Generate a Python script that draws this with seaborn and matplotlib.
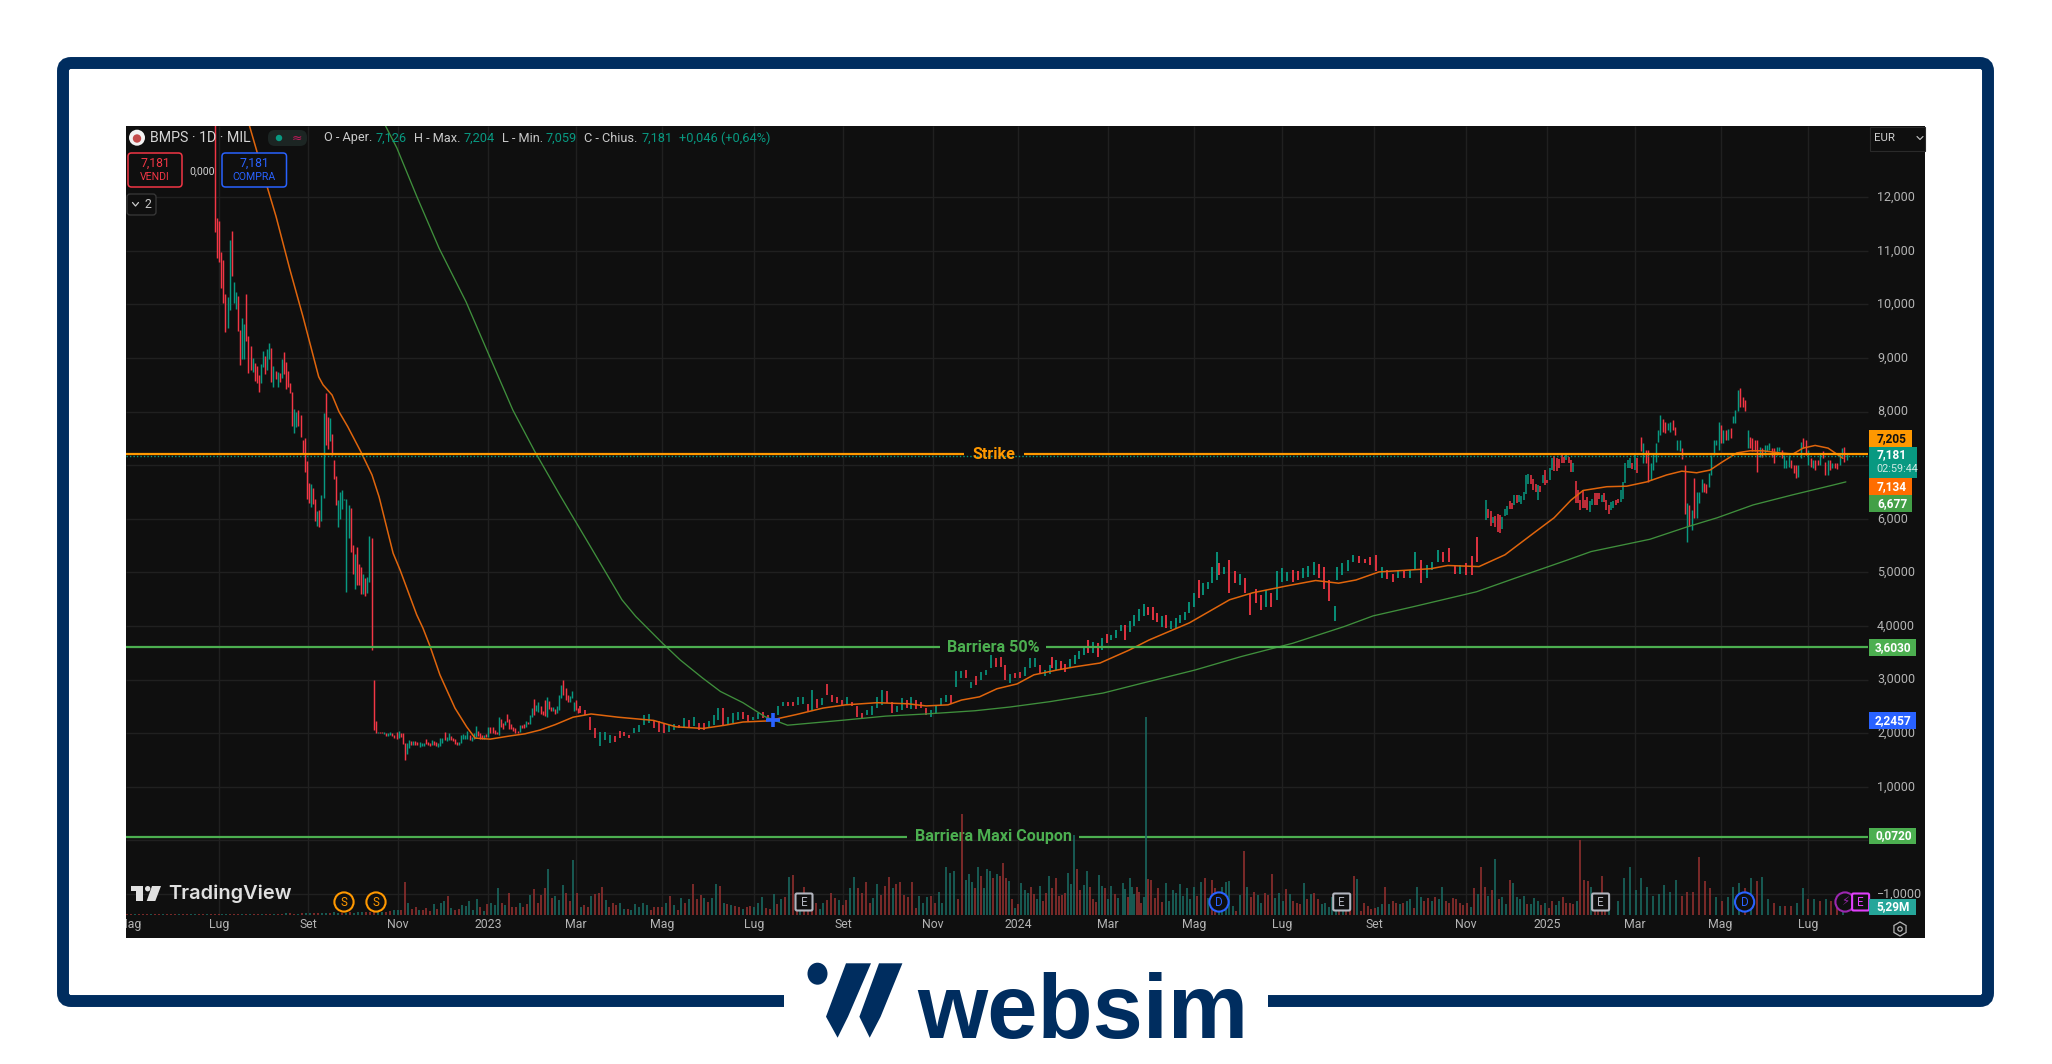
import numpy as np
import matplotlib
matplotlib.use("Agg")
import matplotlib.pyplot as plt
from matplotlib.patches import FancyBboxPatch, Rectangle, Polygon, Circle, Ellipse, RegularPolygon
import seaborn as sns

# ---------- DATA (prices in EUR; each bar = high, low, up-day flag) ----------
bars_decline = [
(13.9,11.36,0),(11.61,10.87,0),(11.56,10.80,0),(10.98,10.30,0),(10.83,10.02,0),(10.20,9.49,0),(10.14,9.57,1),(11.20,9.89,1),
(11.37,10.53,0),(10.42,10.02,1),(10.23,9.92,1),(10.16,9.51,0),(9.52,8.87,0),(9.75,8.99,1),(9.64,8.99,1),(10.20,9.32,0),
(9.41,8.73,0),(9.23,8.77,0),(9.00,8.74,1),(8.91,8.57,0),(8.85,8.53,0),(8.68,8.37,0),(8.89,8.54,1),(9.13,8.83,1),
(9.04,8.70,0),(9.17,8.78,1),(9.28,8.98,1),(9.19,8.55,0),(8.85,8.46,1),(8.76,8.61,0),(8.74,8.46,1),(8.72,8.55,0),
(8.98,8.63,1),(9.11,8.70,0),(8.93,8.42,0),(8.76,8.46,0),(8.53,8.35,0),(8.37,7.73,0),(8.05,7.60,1),(7.99,7.71,1),
(8.03,7.73,0),(7.94,7.53,0),(7.47,7.23,0),(7.51,6.87,0),(7.08,6.37,0),(6.67,6.30,0),(6.65,6.22,1),(6.58,6.28,0),
(6.37,5.96,0),(6.15,5.87,1),(6.17,5.85,0),(6.45,5.96,1),(7.98,6.39,1),(8.34,7.38,0),(7.90,7.30,0),(7.88,7.45,1),
(7.58,7.19,0),(7.10,6.74,0),(6.80,6.26,0),(6.35,5.85,1),(6.50,6.00,1),(6.54,6.18,1),(6.37,6.35,1),(6.37,4.64,1),
(6.26,5.64,1),(6.20,5.39,0),(5.51,4.97,0),(5.35,4.69,1),(5.48,4.77,0),(5.16,4.77,0),(5.10,4.60,0),(4.97,4.60,1),
(4.90,4.56,0),(4.92,4.62,1),(5.68,4.82,1),(5.64,3.55,0),(2.99,2.06,0),(2.23,2.00,0),(2.02,2.00,1),(2.02,2.00,0),
(2.02,2.00,0),(2.02,1.99,1),(2.01,1.95,0),(2.00,1.95,1),(2.03,1.97,1),(2.00,1.95,0),(1.97,1.92,0),(2.02,1.89,0),
(2.05,1.92,1),(2.00,1.93,0),(2.00,1.80,0),(1.81,1.50,0),(1.81,1.61,1),(1.87,1.72,1),(1.86,1.79,0),(1.86,1.79,1),
(1.85,1.78,0),(1.83,1.79,0),(1.83,1.74,1),(1.81,1.76,1),(1.82,1.76,1),(1.89,1.80,0),(1.83,1.78,0),(1.82,1.76,0),
(1.87,1.78,1),(1.85,1.78,0),(1.84,1.76,0),(1.82,1.74,1),(1.92,1.76,1),(1.91,1.82,1),(2.02,1.87,0),(1.93,1.86,1),
(2.00,1.87,1),(1.95,1.87,0),(1.91,1.85,0),(1.89,1.80,0),(1.84,1.78,0),(1.84,1.78,1),(1.97,1.82,1),(1.99,1.89,1),
(1.97,1.89,1),(2.04,1.89,1),(1.97,1.87,0),(1.93,1.86,1),(2.00,1.89,1),(2.14,1.93,1),(2.04,1.95,0),(2.00,1.89,0),
(1.97,1.89,0),(1.97,1.89,1),(1.99,1.93,0),(2.12,1.93,1),(2.12,2.01,0),(2.12,2.01,0),(2.07,1.99,0),(2.02,1.99,0),
(2.30,1.97,1),(2.27,2.12,0),(2.20,2.08,0),(2.23,2.15,1),(2.36,2.21,0),(2.27,2.08,0),(2.17,2.08,0),(2.12,2.04,0),
(2.10,2.00,0),(2.04,2.00,0),(2.15,2.02,1),(2.15,2.10,0),(2.17,2.10,0),(2.23,2.12,1),(2.21,2.17,0),(2.34,2.17,1),
(2.47,2.30,1),(2.64,2.34,0),(2.53,2.42,1),(2.58,2.40,1),(2.51,2.36,0),(2.42,2.34,0),(2.62,2.32,0),(2.68,2.30,1),
(2.60,2.45,0),(2.49,2.42,0),(2.49,2.42,1),(2.45,2.36,0),(2.51,2.38,1),(2.71,2.43,1),(2.90,2.66,1),(2.99,2.71,0),
(2.84,2.62,0),(2.71,2.58,0),(2.69,2.58,1),(2.79,2.66,1),(2.58,2.42,1),(2.62,2.43,0),(2.47,2.38,0)]

bars_2023 = [
(2.50,2.37,0),(2.43,2.34,0),(2.31,2.07,0),(2.09,1.91,0),(2.03,1.77,1),(2.03,1.87,1),(1.97,1.81,1),(1.95,1.84,0),(2.05,1.91,0),
(2.03,1.94,0),(1.97,1.91,0),(2.09,2.00,1),(2.15,2.03,1),(2.34,2.15,1),(2.36,2.19,1),(2.25,2.09,0),(2.22,2.03,0),(2.19,2.00,0),
(2.15,2.03,1),(2.17,2.06,1),(2.15,2.09,0),(2.28,2.09,1),(2.25,2.12,0),(2.31,2.14,1),(2.19,2.06,0),(2.19,2.06,0),(2.22,2.09,1),
(2.34,2.15,1),(2.47,2.25,1),(2.48,2.15,0),(2.31,2.15,1),(2.37,2.20,1),(2.39,2.25,1),(2.39,2.26,0),(2.34,2.22,0),(2.31,2.24,1),
(2.37,2.26,1),(2.40,2.28,0),(2.34,2.25,0),(2.37,2.26,1),(2.51,2.34,1),(2.59,2.50,1),(2.59,2.50,0),(2.59,2.50,0),(2.67,2.53,1),
(2.67,2.55,1),(2.55,2.42,0),(2.80,2.43,1),(2.63,2.47,0),(2.65,2.53,1),(2.92,2.71,0),(2.71,2.59,0),(2.68,2.56,0),(2.62,2.53,0),
(2.68,2.53,1),(2.59,2.51,0),(2.50,2.31,0),(2.37,2.26,0),(2.43,2.34,1),(2.50,2.34,1),(2.68,2.47,1),(2.81,2.53,1),(2.78,2.56,0),
(2.59,2.37,0),(2.50,2.39,1),(2.65,2.43,1),(2.62,2.47,0),(2.68,2.45,1),(2.62,2.45,0),(2.59,2.47,0),(2.47,2.34,0),(2.43,2.30,1),
(2.50,2.37,1),(2.65,2.53,1),(2.71,2.59,1),(2.71,2.55,0),(3.17,2.87,1),(3.17,3.04,1),(3.18,3.04,0),(2.96,2.84,1),(3.06,2.90,0),
(3.15,3.00,1),(3.18,3.09,1),(3.46,3.21,1),(3.40,3.24,0),(3.43,3.24,0),(3.27,2.99,0),(3.11,2.94,1),(3.13,3.03,0),(3.15,3.03,0),
(3.24,3.06,1),(3.40,3.21,1),(3.40,3.24,1),(3.27,3.12,0),(3.18,3.07,1),(3.27,3.11,1)]

bars_2024_rise = [
(3.42,3.21,0),(3.37,3.18,1),(3.34,3.20,0),(3.30,3.15,0),(3.38,3.22,1),(3.46,3.30,1),(3.54,3.38,1),(3.62,3.46,1),(3.74,3.49,0),(3.70,3.50,1),
(3.68,3.43,0),(3.78,3.55,1),(3.85,3.68,0),(3.83,3.74,1),(3.92,3.78,1),(4.02,3.90,1),(4.02,3.74,0),(4.10,3.88,1),(4.21,4.00,1),(4.32,4.10,1),
(4.41,4.18,1),(4.35,4.21,0),(4.35,4.11,0),(4.24,4.08,0),(4.19,3.99,1),(4.21,3.96,0),(4.10,3.95,1),(4.15,3.96,1),(4.20,4.05,1),(4.27,4.11,1),
(4.44,4.24,1),(4.61,4.36,1),(4.86,4.52,0),(4.80,4.58,1),(4.83,4.70,1),(5.10,4.80,1),(5.38,4.86,1)]
bars_2024_summer = [
(5.17,4.95,0),(5.11,4.98,1),(5.23,4.61,0),(5.02,4.80,0),(4.98,4.77,1),(4.89,4.61,0),(4.61,4.20,0),(4.70,4.43,0),(4.58,4.30,0),(4.67,4.36,1),
(4.61,4.35,0),(5.02,4.49,1),(5.08,4.83,1),(5.00,4.84,1),(5.05,4.83,0),(5.02,4.86,0),(5.08,4.89,1),(5.12,4.92,1),(5.19,4.95,1),(5.15,4.90,0),
(5.11,4.70,0),(4.86,4.46,0),(4.38,4.10,1)]
bars_2024_autumn = [
(5.11,4.86,1),(5.17,4.95,1),(5.23,5.02,1),(5.33,5.20,1),(5.30,5.18,0),(5.26,5.17,0),(5.28,5.14,0),(5.33,5.02,0),(5.11,4.89,1),(5.04,4.88,0),
(4.98,4.83,0),(5.02,4.89,1),(5.03,4.90,0),(5.05,4.89,1),(5.39,5.05,1),(5.23,4.80,0),(5.14,4.90,1),(5.20,5.05,1),(5.42,5.20,1),(5.39,5.20,0),
(5.45,5.20,0),(5.14,4.98,0),(5.14,4.98,1),(5.17,4.95,0),(5.30,4.95,0),(5.66,5.20,0)]

bars_early_2025 = [
(6.35,5.98,1),(6.18,6.01,0),(6.15,5.87,0),(6.03,5.92,1),(6.05,5.84,0),(6.09,5.76,0),(6.07,5.74,0),(6.03,5.81,1),(6.18,6.05,1),(6.24,6.07,1),
(6.34,6.18,0),(6.30,6.18,0),(6.45,6.26,1),(6.45,6.29,0),(6.45,6.32,1),(6.43,6.28,1),(6.51,6.35,1),(6.81,6.46,1),(6.84,6.65,1),(6.82,6.65,0),
(6.74,6.54,0),(6.65,6.51,0),(6.63,6.35,1),(6.61,6.51,0),(6.82,6.66,1),(6.91,6.63,0),(6.73,6.66,0),(6.94,6.73,1),(7.13,6.91,1),(7.17,6.90,0),
(7.13,6.90,0),(7.11,6.94,0),(7.19,7.05,0),(7.16,7.05,0),(7.21,7.10,1),(7.16,7.04,0),(7.09,6.88,0),(7.04,6.88,1),(6.71,6.29,0),(6.54,6.29,0),
(6.35,6.17,0),(6.54,6.20,0),(6.35,6.20,0),(6.41,6.17,0),(6.33,6.12,1),(6.37,6.26,1),(6.49,6.26,0),(6.48,6.26,0),(6.48,6.37,0),(6.45,6.32,1),
(6.48,6.32,0),(6.35,6.17,0),(6.26,6.09,0),(6.32,6.17,1),(6.33,6.20,1),(6.35,6.26,0),(6.38,6.29,0),(6.54,6.32,1),(6.68,6.38,1),(7.04,6.66,1),
(7.10,6.94,1),(7.13,6.94,1),(7.04,6.93,0),(7.21,6.91,1),(7.13,6.85,0)]

bars_late_2025 = [
(7.53,7.26,0),(7.41,7.04,1),(7.29,7.04,0),(7.29,6.69,0),(7.04,6.73,1),(7.22,6.91,1),(7.41,7.07,1),(7.66,7.44,1),(7.94,7.57,1),(7.86,7.63,0),
(7.81,7.60,0),(7.78,7.66,1),(7.81,7.63,1),(7.85,7.66,0),(7.72,7.57,0),(7.48,7.29,1),(7.47,7.26,1),(7.32,7.11,0),(7.01,6.10,0),(6.29,5.57,1),
(6.26,5.86,0),(6.17,5.79,1),(6.76,6.01,0),(6.51,6.01,1),(6.51,6.29,1),(6.74,6.51,1),(6.66,6.51,0),(6.65,6.48,0),(6.85,6.60,1),(7.19,6.82,1),
(7.47,7.19,1),(7.47,7.38,1),(7.81,7.29,1),(7.75,7.41,0),(7.66,7.41,1),(7.66,7.47,0),(7.67,7.47,1),(7.69,7.50,0),(7.92,7.78,1),(8.03,7.78,1),
(8.41,8.02,1),(8.44,8.09,0),(8.28,8.09,0),(8.22,8.02,0),(7.66,7.32,1),(7.53,7.32,0),(7.50,7.26,0),(7.47,7.26,0),(7.47,6.88,0),(7.35,7.16,1),
(7.32,7.15,0),(7.38,7.19,1),(7.38,7.26,1),(7.41,7.29,1),(7.32,7.16,0),(7.32,7.04,0),(7.35,7.19,1),(7.35,7.26,1),(7.29,7.13,0),(7.19,6.94,1),
(7.10,6.94,1),(7.19,6.97,1),(7.10,6.94,0),(7.01,6.85,0),(7.01,6.76,0),(7.01,6.79,1),(7.44,7.13,1),(7.50,7.32,0),(7.47,7.19,0),(7.29,7.01,1),
(7.13,6.97,0),(7.10,6.94,1),(7.10,6.91,0),(7.10,7.01,0),(7.22,7.01,1),(7.26,7.13,0),(7.07,6.82,0),(7.10,6.82,1),(7.10,6.91,0),(7.04,6.94,1),
(7.04,6.94,0),(7.04,6.93,0),(7.22,7.01,1),(7.32,7.16,1),(7.35,7.07,0),(7.21,7.10,1)]

# first/last trading session covered by each list
bar_spans = [(42.6,216.3),(217.2,442.1),(442.9,522.0),(522.9,578.3),(579.2,646.5),(650.7,723.0),(724.9,823.4)]

ma50_session = [59.1,67.5,71.8,78.5,84.7,92.2,94.3,98.6,101.9,106.1,112.4,117.7,121.1,127.8,131.1,139.1,142.1,145.5,150.2,151.7,157.4,163.0,167.0,
174.2,183.7,190.9,198.1,205.3,213.9,222.5,235.4,252.4,263.2,276.1,286.6,295.2,306.9,320.8,333.5,344.3,359.3,374.2,382.8,393.3,399.8,408.4,416.7,
426.3,434.4,445.5,454.1,466.0,479.9,489.5,508.8,528.0,539.0,555.5,569.2,580.2,588.5,599.5,624.2,632.4,647.4,659.8,673.7,683.3,691.4,697.2,708.5,
718.0,727.6,737.2,744.4,751.5,757.9,764.1,770.7,777.0,783.3,791.4,797.6,802.4,808.2,814.4,821.5]
ma50_value = [13.33,12.20,11.64,10.64,9.77,8.65,8.50,8.31,8.00,7.72,7.25,6.82,6.41,5.36,5.05,4.21,3.96,3.62,3.09,2.96,2.47,2.12,1.91,
1.89,1.95,1.99,2.06,2.16,2.30,2.36,2.30,2.24,2.12,2.09,2.15,2.21,2.23,2.35,2.47,2.53,2.57,2.55,2.51,2.53,2.62,2.68,2.83,
2.92,3.09,3.18,3.24,3.31,3.55,3.74,4.06,4.49,4.62,4.75,4.85,4.80,4.86,5.01,5.07,5.13,5.11,5.33,5.74,6.02,6.35,6.53,6.60,
6.61,6.69,6.82,6.89,6.86,6.91,7.07,7.23,7.27,7.27,7.23,7.21,7.32,7.37,7.32,7.13]

ma200_session = [124.2,129.6,139.2,149.8,162.7,173.2,185.1,195.7,207.5,220.3,237.3,243.9,256.7,265.1,275.9,284.4,295.2,305.7,316.5,342.1,363.5,382.8,
406.2,423.0,442.1,467.5,486.8,511.5,533.5,558.3,582.8,596.7,615.8,646.2,665.1,689.5,701.0,729.2,746.9,761.3,778.5,797.6,816.7,822.9]
ma200_value = [13.33,12.92,12.01,11.05,10.05,9.10,8.03,7.25,6.45,5.61,4.49,4.18,3.68,3.37,3.03,2.78,2.57,2.31,2.15,2.24,2.32,2.36,
2.42,2.49,2.59,2.75,2.94,3.18,3.43,3.68,3.99,4.19,4.36,4.64,4.90,5.23,5.39,5.62,5.85,6.02,6.26,6.45,6.63,6.69]

strike_level = 7.205
barrier50_level = 3.603
maxi_level = 0.072
last_price = 7.181

# volumes in millions: (volume, up-day flag)
vol_2022_flat = [(0.4,0),(0.4,0),(0.4,1),(0.4,0),(0.4,0),(0.4,0),(0.4,1),(0.4,0),(0.4,0),(0.4,1),(0.4,0),(0.4,0),(0.4,0),(0.4,1),(0.4,0),(0.4,0),(0.4,1),(0.4,1),
(0.4,0),(0.4,0),(0.4,1),(0.4,0),(0.4,0),(0.4,0),(0.4,1),(0.4,1),(0.4,0),(0.4,0),(0.4,0),(0.4,1),(0.4,0),(0.4,1),(0.4,0),(0.4,0),(0.4,1),(0.4,0),
(0.4,0),(0.4,1),(0.6,0),(0.5,0),(0.8,1),(0.9,0),(0.7,0),(0.6,1),(1.0,0),(0.9,1),(1.1,1),(1.0,0),(1.2,0),(1.1,1),(0.9,1),(1.2,0),(1.3,1),(1.0,1),
(1.2,0),(1.1,1),(1.4,0),(1.2,1),(1.5,1),(1.3,1),(1.4,0),(1.5,0),(1.3,0),(1.9,1),(1.6,1),(1.5,0),(1.8,0),(2.4,1)]
vol_late_2022 = [(2.7,1),(2.3,0),(16.3,0),(5.8,1),(3.0,0),(4.1,0),(2.7,1),(2.3,0),(3.5,0),(1.8,0),(5.3,1),(3.0,0),(5.8,1),(6.9,1),(9.4,0),(3.7,1),
(2.7,0),(3.0,0),(4.8,1),(4.4,1),(6.9,1),(2.7,1),(8.0,1),(4.1,0),(1.9,1),(5.3,0),(6.2,1),(4.8,1),(13.3,1),(6.2,0),(4.8,1),(11.2,0),(4.1,0),(4.1,0),(5.8,1),
(4.1,0),(5.3,0),(10.1,1),(12.9,0),(6.2,0),(10.1,0),(13.3,0),(22.8,1),(8.7,0),(9.4,1),(7.6,1),(15.0,1),(11.2,0),(7.1,0),(27.4,1),(11.2,0),(4.1,1),(4.8,0),
(4.1,0),(9.4,1),(10.6,0),(11.2,0),(14.2,0),(7.4,1),(4.1,0),(6.2,0),(4.8,0),(6.2,1),(3.0,1)]
vol_2023_first = [(3.2,0),(2.3,1),(5.3,1),(4.1,1),(6.2,1),(4.8,1),(2.7,0),(4.1,0),(4.1,0),(3.9,0),(5.8,1),(9.4,0),(4.8,1),(2.3,0),(8.5,1),(6.2,0),(8.0,1),(15.4,0),
(8.0,0),(10.1,0),(8.5,1),(6.7,0),(8.3,1),(15.4,1),(14.7,0),(5.8,1),(5.3,0),(4.8,1),(4.4,0),(4.1,0),(3.0,1),(4.1,0),(4.4,0),(4.1,1),(5.8,1),(8.9,1),(3.5,0),
(3.0,0),(10.6,1),(5.3,0),(8.0,1),(8.9,0),(18.9,1),(20.2,0),(6.2,0),(11.2,1),(14.2,0),(8.3,0),(4.1,0),(6.2,0),(3.0,1),(6.2,1),(7.6,0),(11.2,0),(8.3,0),(7.6,1),
(4.8,0),(7.6,0),(13.3,1),(18.9,1),(13.3,0),(11.2,0),(16.5,0),(5.8,0),(8.3,1),(15.4,1),(10.1,0),(14.7,0),(18.9,0),(13.3,1),(15.4,0),(16.5,0),(10.1,0),(8.9,0),
(16.5,0),(3.5,0),(9.4,1),(6.2,1),(8.9,1),(9.7,0),(5.8,0),(11.5,1),(6.2,1),(24.2,1),(21.2,1),(21.8,1),(8.0,0)]
vol_2023_last = [(50.4,0),(17.7,1),(20.7,1),(16.5,1),(13.6,0),
(23.9,1),(19.5,0),(13.3,1),(22.8,1),(22.1,1),(18.6,0),(20.4,1),(19.5,0),(26.0,0),(18.6,0),(16.8,1),(8.0,0),(3.5,1),(5.3,0),(15.9,1),(12.4,1),(11.2,1),(14.2,0),
(10.6,0),(8.0,1),(14.7,1),(7.1,0),(11.2,0),(19.5,1),(13.6,0),(18.6,0),(9.7,0),(10.1,0),(11.2,0),(21.2,1),(15.4,1),(39.8,1),(23.0,0),(12.4,0),(15.0,1),(22.1,1),
(14.2,0),(8.0,0),(6.5,0),(20.0,1),(14.7,1),(13.6,0),(8.0,1),(14.7,1),(10.6,0),(8.3,1)]
vol_2024_head = [(15.9,1),(12.9,1),(9.0,0),(18.6,1),(14.2,1),(10.6,1),(14.2,0),(11.5,0),(6.2,0),(8.9,1),(99.0,1)]
vol_2024 = [(18.1,0),(17.5,0),(8.3,0),(13.6,0),(6.5,0),(15.9,1),
(7.1,1),(12.4,1),(11.2,1),(15.4,1),(9.7,1),(13.3,1),(8.0,1),(14.2,1),(9.7,0),(16.5,1),(18.6,0),(8.3,1),(17.5,0),(13.3,0),(10.1,1),(13.8,1),(16.5,1),(17.2,1),
(4.4,1),(1.8,0),(10.1,1),(31.9,0),(13.8,1),(8.9,0),(11.5,0),(10.1,1),(5.8,1),(11.2,0),(10.1,0),(20.4,0),(8.7,1),(11.2,1),(7.1,1),(12.9,0),(10.6,1),(7.1,0),(5.8,0),
(5.3,0),(15.9,1),(8.0,0),(10.6,1),(11.2,0),(8.0,0),(5.3,1),(5.8,1),(4.1,1),(8.9,1),(10.6,1),(10.6,0),(6.2,1),(5.8,0),(11.2,0),(19.5,0),(18.1,1),(1.8,0),(6.2,0),
(4.4,0),(3.0,0),(3.5,0),(4.1,1),(5.3,1),(13.8,0),(5.3,1),(7.1,0),(5.8,0),(5.3,1),(5.8,0),(7.1,1),(8.0,1),(3.5,0),(13.8,1),(8.9,1),(7.1,0),(8.3,0),(7.1,1),(8.9,0),
(8.0,1),(14.2,1),(7.1,0),(6.2,0),(8.3,0),(8.0,0),(5.8,0),(4.8,0),(5.8,0),(4.1,1),(13.3,0),(10.6,1),(24.2,0),(13.8,0),(9.4,1),(12.4,0),(28.1,1),(8.0,0),(8.9,1),
(5.3,1),(17.5,0),(15.9,1),(8.9,1),(8.0,1),(9.4,1),(5.3,0),(5.3,1),(8.3,1),(7.1,1),(4.8,0),(6.2,1),(3.5,0),(7.1,0),(4.8,1),(7.1,1),(8.9,0),(5.8,0),(5.8,0),(5.3,0),
(7.1,1),(37.7,0),(17.5,0),(16.8,0),(13.8,1),(9.7,0),(3.5,0),(19.5,0),(3.5,0),(3.5,1)]
vol_2025 = [(7.1,1),(18.6,1),(23.9,1),(12.4,1),(18.6,1),(14.2,1),(9.7,1),(10.6,1),(15.0,1),(11.5,1),(17.7,1),(9.7,0),(11.5,0),(11.5,0),(29.0,0),(16.8,0),(13.3,0),
(8.9,1),(7.1,0),(8.9,1),(14.2,1),(15.9,1),(13.3,0),(18.6,1),(16.8,0),(19.1,1),(8.0,1),(6.2,0),(4.4,1),(4.4,0),(4.4,0),(6.2,1),(13.6,1),(8.0,0),(8.0,1),(7.1,0),(8.0,1),
(7.1,0),(3.5,0),(5.3,1)]
vol_spans = [(0.5,128.0),(130.0,238.1),(240.0,398.0),(400.2,474.5),(477.0,488.0),(488.9,709.5),(714.0,821.5)]

month_sessions = [1.4,44.4,87.1,130.1,173.2,215.3,256.5,300.5,343.1,386.1,426.8,469.9,511.0,553.1,597.1,641.1,679.9,722.0,763.0,804.8]
month_labels = ["Mag","Lug","Set","Nov","2023","Mar","Mag","Lug","Set","Nov","2024","Mar","Mag","Lug","Set","Nov","2025","Mar","Mag","Lug"]
price_ticks = [12,11,10,9,8,6,5,4,3,2,1,-1]
price_tick_labels = ["12,000","11,000","10,000","9,000","8,000","6,000","5,0000","4,0000","3,0000","2,0000","1,0000","−1,0000"]
grid_levels = [12,11,10,9,8,7,6,5,4,3,2,1,0,-1]

# ---------- STYLE ----------
BG, GRID = "#0f0f0f", "#202020"
UP, DOWN = "#089981", "#f23645"
VUP, VDOWN = "#1a6b62", "#93302f"
ORANGE, GREEN = "#ff9800", "#4caf50"
MA_O, MA_G = "#e0650c", "#3f8f3c"
NAVY, BLUE = "#002d5f", "#2962ff"

sns.set_theme(style="dark", rc={"axes.facecolor": BG, "figure.facecolor": "white"})
plt.rcParams["font.family"] = ["Roboto", "DejaVu Sans"]

W, H, DPI = 2052, 1064, 100
fig = plt.figure(figsize=(W / DPI, H / DPI), dpi=DPI)
L, R, T, B = 126, 1925, 126, 938
PX_PER_SESSION = 2.09
ax = fig.add_axes([L / W, (H - B) / H, (R - L) / W, (B - T) / H])
ax.set_xlim(0, (R - L) / PX_PER_SESSION)
ax.set_ylim(-1.82, 13.33)
for sp in ax.spines.values():
    sp.set_visible(False)
ax.grid(False)

# grid
plot_right = (1868 - L) / PX_PER_SESSION
ax.hlines(grid_levels, 0, plot_right, color=GRID, lw=1.0, zorder=1)
ax.vlines(month_sessions[1:], -1.39, 13.33, color=GRID, lw=1.0, zorder=1)

# candles
sections = [bars_decline, bars_2023, bars_2024_rise, bars_2024_summer, bars_2024_autumn, bars_early_2025, bars_late_2025]
section_lw = [1.05, 1.2, 1.3, 1.3, 1.3, 1.1, 1.05]
for sec, (s0, s1), lw in zip(sections, bar_spans, section_lw):
    sess = np.linspace(s0, s1, len(sec))
    arr = np.array(sec)
    cols = [UP if u else DOWN for u in arr[:, 2]]
    ax.vlines(sess, arr[:, 1], arr[:, 0], colors=cols, lw=lw, zorder=3)

# moving averages
sns.lineplot(x=ma50_session, y=ma50_value, ax=ax, color=MA_O, lw=1.1, estimator=None, sort=False, legend=False, zorder=4)
sns.lineplot(x=ma200_session, y=ma200_value, ax=ax, color=MA_G, lw=0.95, estimator=None, sort=False, legend=False, zorder=4)
ax.set_xlabel("")
ax.set_ylabel("")

# level lines with labelled gaps (gap edges in sessions)
ax.hlines(last_price, 0, plot_right, color=UP, lw=1.0, linestyles=(0, (1, 1.5)), zorder=4)
for level, col, gap, lab in [
    (strike_level, ORANGE, (401.0, 429.5), "Strike"),
    (barrier50_level, GREEN, (389.5, 440.0), "Barriera 50%"),
    (maxi_level, GREEN, (373.7, 456.0), "Barriera Maxi Coupon"),
]:
    ax.hlines(level, 0, gap[0], color=col, lw=1.6, zorder=5)
    ax.hlines(level, gap[1], plot_right, color=col, lw=1.6, zorder=5)
    ax.text((gap[0] + gap[1]) / 2, level, lab, color=col, fontsize=11.6, fontweight="bold",
            ha="center", va="center", zorder=6)

# volume pane (same session axis); twinx resets the price axis ticks, so it comes first
vx = ax.twinx()
vx.set_ylim(-11.5, 394.5)
vx.patch.set_visible(False)
vx.set_yticks([])
vx.grid(False)
for sp in vx.spines.values():
    sp.set_visible(False)
volume_sections = [vol_2022_flat, vol_late_2022, vol_2023_first, vol_2023_last, vol_2024_head, vol_2024, vol_2025]
for sec, (s0, s1) in zip(volume_sections, vol_spans):
    sess = np.linspace(s0, s1, len(sec))
    arr = np.array(sec)
    cols = [VUP if u else VDOWN for u in arr[:, 1]]
    vx.vlines(sess, 0, arr[:, 0], colors=cols, lw=1.15, zorder=2)

# axes ticks drawn inside the panel, as in the platform
ax.set_xticks(month_sessions)
ax.set_xticklabels(month_labels, fontsize=8.8, color="#b4b4b4")
ax.tick_params(axis="x", length=0, pad=-14.5, bottom=False)
for t in ax.get_xticklabels():
    t.set_clip_on(True)
    t.set_clip_box(ax.bbox)
ax.yaxis.tick_right()
ax.set_yticks(price_ticks)
ax.set_yticklabels(price_tick_labels, fontsize=9, color="#b4b4b4", ha="left", va="center")
ax.tick_params(axis="y", length=0, pad=-34.5, right=False, labelright=True, labelleft=False)

# ---------- OVERLAY in figure pixels: frame, badges, logos ----------
ov = fig.add_axes([0, 0, 1, 1])
ov.set_xlim(0, W)
ov.set_ylim(H, 0)
ov.axis("off")
ov.patch.set_visible(False)

ov.add_patch(FancyBboxPatch((63, 63), 1925, 938, boxstyle="round,pad=0,rounding_size=8",
                            fc="none", ec=NAVY, lw=8.6, zorder=1))
ov.add_patch(Rectangle((784, 985), 484, 30, fc="white", ec="none", zorder=2))
# websim logo
ov.add_patch(Ellipse((817.5, 973.7), 20, 22, fc=NAVY, ec="none", zorder=3))
ov.add_patch(Polygon([(846, 963.3), (871, 963.3), (848, 1016.7), (837.6, 1037.7), (826, 1016.7)], fc=NAVY, ec="none", zorder=3))
ov.add_patch(Polygon([(879, 963.3), (902.4, 963.3), (880.6, 1016.7), (869.7, 1037.7), (859.4, 1016.7)], fc=NAVY, ec="none", zorder=3))
ov.text(1083, 1038, "websim", color=NAVY, fontsize=65, fontweight="bold", ha="center", va="baseline",
        family=["Liberation Sans"], zorder=3)


def badge(x0, x1, y0, y1, fc, txt, col="white", fs=8.6, tx=None):
    ov.add_patch(Rectangle((x0, y0), x1 - x0, y1 - y0, fc=fc, ec="none", zorder=8))
    ov.text(tx if tx else x0 + 7, (y0 + y1) / 2, txt, color=col, fontsize=fs, fontweight="bold",
            ha="left", va="center", zorder=9)


def event(x, y, letter, col, kind="circle"):
    if kind == "circle":
        ov.add_patch(Circle((x, y), 9.6, fc=BG, ec=col, lw=1.5, zorder=6))
    else:
        ov.add_patch(FancyBboxPatch((x - 8.5, y - 8.5), 17, 17, boxstyle="round,pad=0,rounding_size=1.5",
                                    fc=BG, ec=col, lw=1.5, zorder=6))
    ov.text(x, y, letter, color=col, fontsize=8.4, ha="center", va="center", zorder=7)


for ex in (344, 376):
    event(ex, 902, "S", ORANGE)
for ex in (804, 1341.7, 1600.6):
    event(ex, 902, "E", "#b2b5be", "box")
for ex in (1219, 1744.6):
    event(ex, 902, "D", BLUE)
event(1845, 902, "⚡", "#9c27b0")
event(1860.6, 902, "E", "#e040fb", "box")

badge(1869, 1912, 430, 446.7, ORANGE, "7,205", col="#111111", tx=1877)
ov.add_patch(Rectangle((1869, 447), 48, 31, fc="#089981", ec="none", zorder=8))
ov.text(1877, 455, "7,181", color="white", fontsize=8.6, fontweight="bold", va="center", zorder=9)
ov.text(1876, 469, "02:59:44", color="#cfe9e4", fontsize=7.8, va="center", zorder=9)
badge(1869, 1912, 478.3, 495, "#ff6d00", "7,134", tx=1877)
badge(1869, 1912, 495.3, 512, "#43a047", "6,677", tx=1877)
badge(1869, 1916, 639, 656, "#4caf50", "3,6030", tx=1875)
badge(1869, 1916, 712, 729, BLUE, "2,2457", tx=1875)
badge(1869, 1916, 828, 844, "#4caf50", "0,0720", tx=1875)
badge(1869, 1916, 899, 915, "#26a69a", "5,29M", tx=1876)

# crosshair
ov.plot([773, 773], [713, 727], color=BLUE, lw=2.6, solid_capstyle="butt", zorder=7)
ov.plot([766, 780], [720, 720], color=BLUE, lw=2.6, solid_capstyle="butt", zorder=7)

# header
ov.add_patch(Circle((137, 137.7), 8, fc="#f2f2f2", ec="none", zorder=7))
ov.add_patch(Circle((137, 138.5), 4.2, fc="#c24a4a", ec="none", zorder=7))
ov.text(150, 138, "BMPS · 1D · MIL", color="#d6d6d6", fontsize=10.2, va="center", zorder=7)
ov.add_patch(FancyBboxPatch((268, 130), 39, 16, boxstyle="round,pad=0,rounding_size=7", fc="#1c2523", ec="none", zorder=6))
ov.add_patch(Circle((279, 138), 3.2, fc="#089981", ec="none", zorder=7))
ov.text(297, 138, "≈", color="#c2185b", fontsize=9, ha="center", va="center", zorder=7,
        family=["DejaVu Sans"])
for x, s, c in [(324, "O - Aper.", "#c9c9c9"), (376, "7,126", UP), (414, "H - Max.", "#c9c9c9"), (464, "7,204", UP),
                (502, "L - Min.", "#c9c9c9"), (546, "7,059", UP), (584, "C - Chius.", "#c9c9c9"), (641, "7,181", UP),
                (679, "+0,046 (+0,64%)", UP)]:
    ov.text(x, 138, s, color=c, fontsize=9.2, va="center", zorder=7)

ov.add_patch(FancyBboxPatch((128, 153), 54, 34, boxstyle="round,pad=0,rounding_size=3.5", fc=BG, ec=DOWN, lw=1.1, zorder=6))
ov.text(155, 163, "7,181", color=DOWN, fontsize=8.8, ha="center", va="center", zorder=7)
ov.text(155, 177, "VENDI", color=DOWN, fontsize=7.6, ha="center", va="center", zorder=7)
ov.add_patch(FancyBboxPatch((222, 153), 64.5, 34, boxstyle="round,pad=0,rounding_size=3.5", fc=BG, ec=BLUE, lw=1.1, zorder=6))
ov.text(254, 163, "7,181", color=BLUE, fontsize=8.8, ha="center", va="center", zorder=7)
ov.text(254, 177, "COMPRA", color=BLUE, fontsize=7.6, ha="center", va="center", zorder=7)
ov.text(202, 171, "0,000", color="#d0d0d0", fontsize=7.6, ha="center", va="center", zorder=7)
ov.add_patch(FancyBboxPatch((127, 194), 29, 21, boxstyle="round,pad=0,rounding_size=3", fc=BG, ec="#3a3a3a", lw=0.9, zorder=6))
ov.plot([132.5, 135.5, 138.5], [202.5, 206, 202.5], color="#c9c9c9", lw=0.9, zorder=7)
ov.text(148, 205, "2", color="#c9c9c9", fontsize=8.8, ha="center", va="center", zorder=7)

# currency selector and settings icon
ov.add_patch(Rectangle((1870, 127), 55, 24, fc=BG, ec="#2a2a2a", lw=0.8, zorder=6))
ov.text(1874, 138, "EUR", color="#d0d0d0", fontsize=8.2, va="center", zorder=7)
ov.plot([1917, 1920, 1923], [136.5, 139.5, 136.5], color="#c9c9c9", lw=0.8, zorder=7)
ov.add_patch(RegularPolygon((1900, 929), 6, radius=7, fc="none", ec="#b4b4b4", lw=0.9, zorder=7))
ov.add_patch(Circle((1900, 929), 2.2, fc="none", ec="#b4b4b4", lw=0.9, zorder=7))

# TradingView mark
ov.add_patch(Polygon([(131, 886), (142.7, 886), (142.7, 901), (136, 901), (136, 891), (131, 891)], fc="#e0e0e0", ec="none", zorder=7))
ov.add_patch(Circle((147.7, 888.7), 2.7, fc="#e0e0e0", ec="none", zorder=7))
ov.add_patch(Polygon([(152, 886), (161, 886), (155.3, 901), (146.7, 901)], fc="#e0e0e0", ec="none", zorder=7))
ov.text(168, 894, "TradingView", color="#e0e0e0", fontsize=14.4, fontweight="semibold", va="center", zorder=7,
        family=["Inter", "Roboto"])

fig.savefig("out.png", dpi=DPI, facecolor="white")
